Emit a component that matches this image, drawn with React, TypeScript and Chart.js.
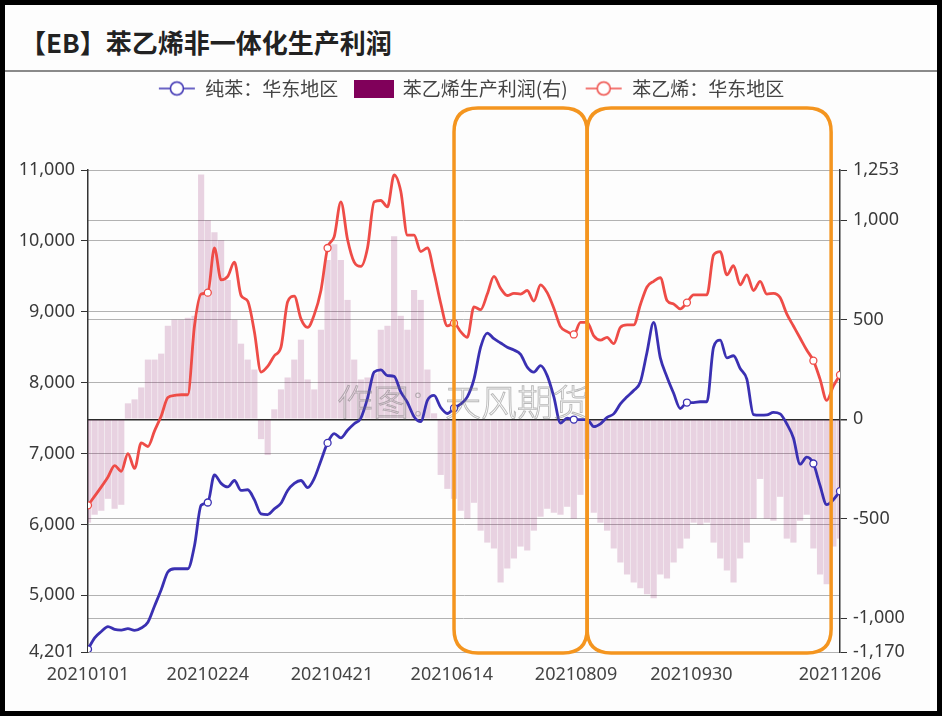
import React, { useEffect, useRef } from 'react';
import { Chart, registerables } from 'chart.js';

Chart.register(...registerables);

// ---------- data ----------
const titleText = '【EB】苯乙烯非一体化生产利润';
const START_DATE = '20210101';
const STEP_DAYS = 3;
const xTickDates = ['20210101', '20210224', '20210421', '20210614', '20210809', '20210930', '20211206'];
const leftTicks = [4201, 5000, 6000, 7000, 8000, 9000, 10000, 11000];
const rightTicks = [-1170, -1000, -500, 0, 500, 1000, 1253];
const seriesNames = ['纯苯：华东地区', '苯乙烯生产利润(右)', '苯乙烯：华东地区'];
const seriesColors = ['#3a30b2', '#80005a', '#ee4c47'];

// 纯苯：华东地区 (left axis)
const benzene = [
  4240, 4400, 4490, 4560, 4520, 4510, 4530, 4505, 4540, 4620,
  4850, 5080, 5330, 5375, 5375, 5375, 5700, 6270, 6310, 6700,
  6580, 6530, 6620, 6480, 6490, 6350, 6150, 6140, 6220, 6300,
  6480, 6580, 6620, 6520, 6650, 6900, 7150, 7280, 7220, 7330,
  7420, 7500, 7780, 8150, 8180, 8100, 8090, 7870, 7720, 7520,
  7450, 7750, 7820, 7650, 7565, 7640, 7700, 7800, 8050, 8500,
  8700, 8620, 8560, 8500, 8460, 8400, 8220, 8150, 8240, 8100,
  7800, 7430, 7500, 7480, 7480, 7480, 7380, 7420, 7510, 7560,
  7700, 7800, 7890, 8010, 8430, 8850, 8350, 8080, 7850, 7636,
  7720, 7720, 7731, 7731, 8500, 8600, 8350, 8380, 8200, 8050,
  7550, 7541, 7545, 7580, 7560, 7420, 7220, 6850, 6950, 6860,
  6550, 6280, 6350, 6470,
];

// 苯乙烯：华东地区 (left axis)
const styrene = [
  6270, 6400, 6530, 6670, 6830, 6750, 7000, 6790, 7150, 7100,
  7320, 7530, 7790, 7820, 7830, 7830, 8800, 9250, 9270, 9900,
  9450, 9500, 9700, 9230, 9150, 8720, 8150, 8230, 8380, 8500,
  9140, 9220, 8900, 8780, 8960, 9300, 9900, 10060, 10550, 10020,
  9700, 9640, 9900, 10550, 10570, 10480, 10930, 10700, 10080, 10080,
  9850, 9900, 9550, 9120, 8800, 8840, 8720, 8640, 9070, 9030,
  9250, 9500, 9330, 9230, 9260, 9250, 9300, 9150, 9380, 9270,
  9050, 8790, 8720, 8680, 8850, 8850, 8660, 8600, 8640, 8550,
  8780, 8814, 8814, 9100, 9350, 9430, 9480, 9160, 9110, 9040,
  9130, 9238, 9238, 9238, 9800, 9850, 9520, 9650, 9380, 9520,
  9300, 9430, 9250, 9260, 9200, 8970, 8800, 8630, 8460, 8310,
  8050, 7750, 7950, 8110,
];

// 苯乙烯生产利润 (right axis)
const profit = [
  -520, -480, -460, -400, -450, -430, 80, 100, 160, 300,
  300, 330, 470, 500, 500, 510, 520, 1230, 1000, 940,
  900, 700, 500, 380, 300, 250, -100, -180, 50, 150,
  210, 300, 400, 200, 150, 450, 800, 880, 800, 600,
  300, 200, 210, 230, 450, 470, 920, 520, 450, 650,
  600, 250, 30, -280, -350, -400, -460, -500, -420, -560,
  -620, -650, -820, -750, -700, -640, -660, -560, -490, -450,
  -470, -480, -440, -500, -380, -200, -470, -520, -560, -650,
  -720, -780, -820, -850, -880, -900, -780, -800, -720, -650,
  -600, -520, -530, -520, -620, -700, -760, -820, -700, -620,
  -500, -300, -500, -510, -390, -600, -620, -510, -480, -650,
  -780, -830, -640, -600,
];

const markerIndex = [0, 18, 36, 55, 73, 90, 109, 113];
const highlightSpans = [
  ['20210615', '20210814'],
  ['20210814', '20211202'],
];
const watermarkText = '作图：天风期货';
const watermarkAt = { date: '20210619', value: 7720 };

// ---------- helpers ----------
const DAY_MS = 86400000;
const utc = (s: string) => Date.UTC(+s.slice(0, 4), +s.slice(4, 6) - 1, +s.slice(6, 8));
const BASE = utc(START_DATE);
const toDay = (s: string) => (utc(s) - BASE) / DAY_MS;
const fromDay = (d: number) => {
  const t = new Date(BASE + Math.round(d) * DAY_MS);
  return `${t.getUTCFullYear()}${String(t.getUTCMonth() + 1).padStart(2, '0')}${String(t.getUTCDate()).padStart(2, '0')}`;
};
const toPoints = (arr: number[]) => arr.map((v, i) => ({ x: i * STEP_DAYS, y: v }));

const CJK = '"Noto Sans CJK SC", "Noto Sans", sans-serif';
const NUM = '"Noto Sans", "DejaVu Sans", sans-serif';

function lineIcon(color: string) {
  const c = document.createElement('canvas');
  c.width = 38;
  c.height = 18;
  const g = c.getContext('2d')!;
  g.strokeStyle = color;
  g.lineWidth = 1.5;
  g.beginPath();
  g.moveTo(1, 9);
  g.lineTo(37, 9);
  g.stroke();
  g.beginPath();
  g.arc(19, 9, 6.5, 0, Math.PI * 2);
  g.fillStyle = '#fff';
  g.fill();
  g.stroke();
  return c;
}
function boxIcon(color: string) {
  const c = document.createElement('canvas');
  c.width = 40;
  c.height = 18;
  const g = c.getContext('2d')!;
  g.fillStyle = color;
  g.fillRect(0, 0, 40, 18);
  return c;
}

function roundRectPath(ctx: CanvasRenderingContext2D, x: number, y: number, w: number, h: number, r: number) {
  ctx.beginPath();
  ctx.moveTo(x + r, y);
  ctx.lineTo(x + w - r, y);
  ctx.quadraticCurveTo(x + w, y, x + w, y + r);
  ctx.lineTo(x + w, y + h - r);
  ctx.quadraticCurveTo(x + w, y + h, x + w - r, y + h);
  ctx.lineTo(x + r, y + h);
  ctx.quadraticCurveTo(x, y + h, x, y + h - r);
  ctx.lineTo(x, y + r);
  ctx.quadraticCurveTo(x, y, x + r, y);
  ctx.closePath();
}

export default function App() {
  const ref = useRef<HTMLCanvasElement | null>(null);

  useEffect(() => {
    const canvas = ref.current;
    if (!canvas) return;

    const legendSpacer = {
      id: 'legendSpacer',
      beforeInit(chart: any) {
        const legend = chart.legend;
        if (!legend) return;
        const orig = legend.fit;
        legend.fit = function () {
          orig.call(this);
          this.height = 108;
        };
      },
    };

    const overlay = {
      id: 'overlay',
      afterDatasetsDraw(chart: any) {
        const { ctx, scales } = chart;
        const x = scales.x.getPixelForValue(toDay(watermarkAt.date));
        const y = scales.yL.getPixelForValue(watermarkAt.value);
        ctx.save();
        ctx.font = `300 36px ${CJK}`;
        ctx.textAlign = 'center';
        ctx.textBaseline = 'middle';
        ctx.strokeStyle = 'rgba(115,115,115,0.5)';
        ctx.lineWidth = 0.9;
        ctx.strokeText(watermarkText, x, y);
        ctx.restore();
      },
      afterDraw(chart: any) {
        const { ctx, scales, chartArea } = chart;
        ctx.save();
        ctx.strokeStyle = '#f4951f';
        ctx.lineWidth = 3.5;
        const top = chartArea.top - 62;
        const bottom = chartArea.bottom + 1;
        highlightSpans.forEach(([a, b]) => {
          const x0 = scales.x.getPixelForValue(toDay(a));
          const x1 = scales.x.getPixelForValue(toDay(b));
          roundRectPath(ctx, x0, top, x1 - x0, bottom - top, 24);
          ctx.stroke();
        });
        ctx.restore();
      },
    };

    const icons = [lineIcon(seriesColors[0]), boxIcon(seriesColors[1]), lineIcon(seriesColors[2])];
    const markerRadius = (c: any) => (markerIndex.includes(c.dataIndex) ? 3.5 : 0);
    const tickFont = { family: NUM, size: 18 };

    const chart = new Chart(canvas, {
      type: 'bar',
      data: {
        datasets: [
          {
            type: 'line',
            label: seriesNames[0],
            data: toPoints(benzene),
            yAxisID: 'yL',
            borderColor: seriesColors[0],
            borderWidth: 2.8,
            pointRadius: markerRadius,
            pointBackgroundColor: '#fff',
            pointBorderColor: seriesColors[0],
            pointBorderWidth: 1.3,
            cubicInterpolationMode: 'monotone',
            order: 1,
          } as any,
          {
            type: 'bar',
            label: seriesNames[1],
            data: toPoints(profit),
            yAxisID: 'yR',
            backgroundColor: 'rgba(128,0,90,0.17)',
            borderWidth: 0,
            barPercentage: 0.93,
            categoryPercentage: 1,
            order: 3,
          } as any,
          {
            type: 'line',
            label: seriesNames[2],
            data: toPoints(styrene),
            yAxisID: 'yL',
            borderColor: seriesColors[2],
            borderWidth: 2.8,
            pointRadius: markerRadius,
            pointBackgroundColor: '#fff',
            pointBorderColor: seriesColors[2],
            pointBorderWidth: 1.3,
            cubicInterpolationMode: 'monotone',
            order: 2,
          } as any,
        ],
      },
      options: {
        animation: false,
        responsive: false,
        maintainAspectRatio: false,
        layout: { padding: 0 },
        plugins: {
          tooltip: { enabled: false },
          legend: {
            display: true,
            position: 'top',
            align: 'center',
            labels: {
              usePointStyle: true,
              pointStyleWidth: 38,
              boxHeight: 18,
              padding: 17,
              color: '#444',
              font: { family: CJK, size: 19 },
              generateLabels: () =>
                seriesNames.map((name, i) => ({
                  text: name,
                  fillStyle: seriesColors[i],
                  strokeStyle: seriesColors[i],
                  lineWidth: 0,
                  pointStyle: icons[i] as any,
                  hidden: false,
                  datasetIndex: i,
                  fontColor: '#444',
                })),
            },
          },
        },
        scales: {
          x: {
            type: 'linear',
            min: 0,
            max: toDay(xTickDates[xTickDates.length - 1]),
            offset: false,
            grid: { display: false, drawTicks: false },
            border: { display: false },
            afterBuildTicks: (s: any) => {
              s.ticks = xTickDates.map((d) => ({ value: toDay(d) }));
            },
            afterFit: (s: any) => {
              s.height = 59;
            },
            ticks: {
              autoSkip: false,
              maxRotation: 0,
              minRotation: 0,
              padding: 12,
              color: '#444',
              font: tickFont,
              callback: (v: any) => fromDay(Number(v)),
            },
          },
          yL: {
            type: 'linear',
            position: 'left',
            min: leftTicks[0],
            max: leftTicks[leftTicks.length - 1],
            afterBuildTicks: (s: any) => {
              s.ticks = leftTicks.map((v) => ({ value: v }));
            },
            afterFit: (s: any) => {
              s.width = 83;
            },
            grid: { color: '#b2b2b2', lineWidth: 1, drawTicks: true, tickLength: 7, tickColor: '#333' },
            border: { display: true, color: '#333', width: 1.5 },
            ticks: {
              padding: 6,
              color: '#3a3a3a',
              font: tickFont,
              callback: (v: any) => Number(v).toLocaleString('en-US'),
            },
          },
          yR: {
            type: 'linear',
            position: 'right',
            min: rightTicks[0],
            max: rightTicks[rightTicks.length - 1],
            afterBuildTicks: (s: any) => {
              s.ticks = rightTicks.map((v) => ({ value: v }));
            },
            afterFit: (s: any) => {
              s.width = 97;
            },
            grid: {
              color: (c: any) => (c.tick && c.tick.value === 0 ? '#2a2a2a' : '#b2b2b2'),
              lineWidth: (c: any) => (c.tick && c.tick.value === 0 ? 1.5 : 1),
              drawTicks: true,
              tickLength: 7,
              tickColor: '#333',
            },
            border: { display: true, color: '#333', width: 1.5 },
            ticks: {
              padding: 6,
              color: '#3a3a3a',
              font: tickFont,
              callback: (v: any) => Number(v).toLocaleString('en-US'),
            },
          },
        },
      } as any,
      plugins: [legendSpacer, overlay],
    });

    return () => chart.destroy();
  }, []);

  return (
    <div style={{ position: 'fixed', left: 0, top: 0, width: 942, height: 716, background: '#000', overflow: 'hidden' }}>
      <div style={{ position: 'absolute', left: 5, top: 5, width: 932, height: 706, background: '#fdfdfd' }} />
      <div
        style={{
          position: 'absolute',
          left: 20,
          top: 27,
          height: 30,
          lineHeight: '30px',
          fontFamily: CJK,
          fontWeight: 700,
          fontSize: 26,
          color: '#222',
          whiteSpace: 'nowrap',
        }}
      >
        {titleText}
      </div>
      <div style={{ position: 'absolute', left: 5, top: 70, width: 932, height: 2, background: '#8a8a8a' }} />
      <canvas ref={ref} width={932} height={649} style={{ position: 'absolute', left: 5, top: 62 }} />
    </div>
  );
}
